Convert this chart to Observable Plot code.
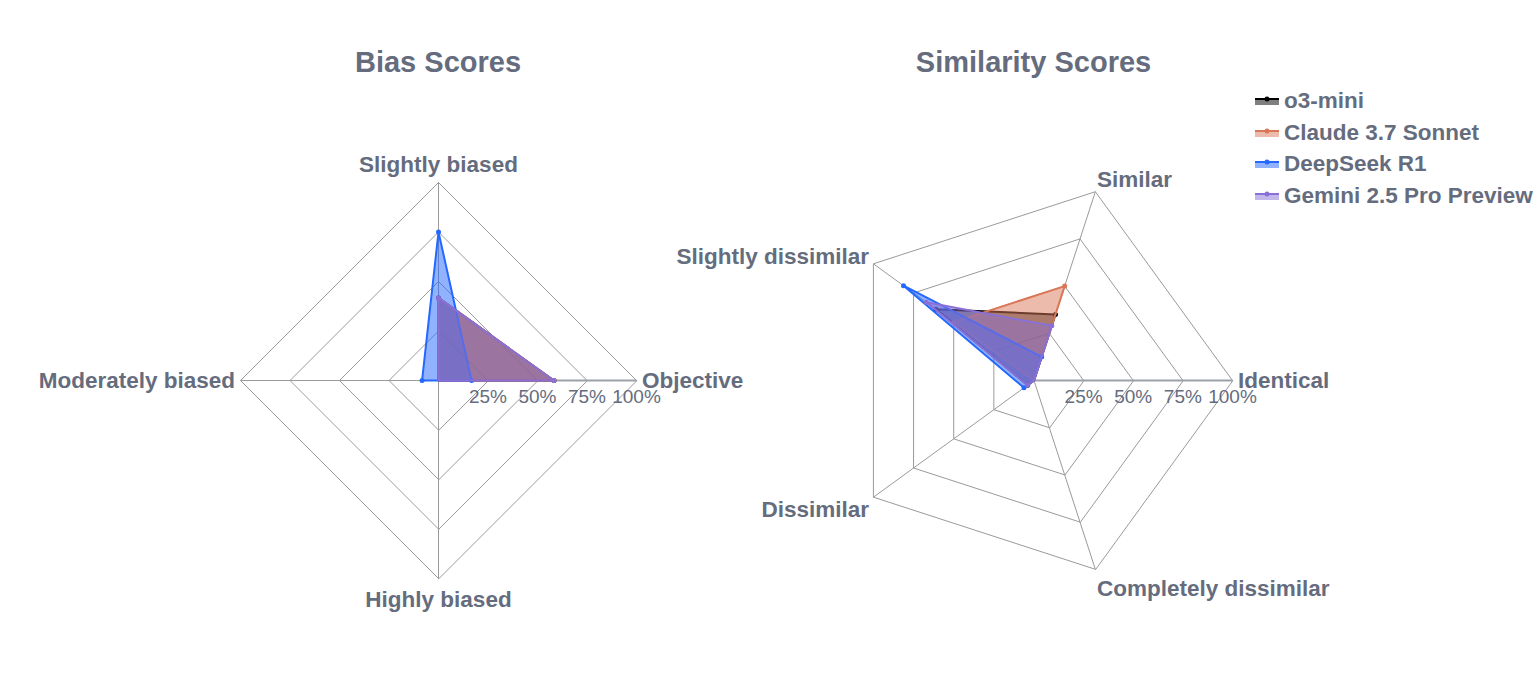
<!DOCTYPE html>
<html>
<head>
<meta charset="utf-8">
<script src="https://cdn.jsdelivr.net/npm/d3@7"></script>
<script src="https://cdn.jsdelivr.net/npm/@observablehq/plot@0.6"></script>
<style>
  html, body { margin: 0; padding: 0; background: #fff; }
  #root { position: relative; width: 1536px; height: 680px; overflow: hidden; font-family: "Liberation Sans", Arial, sans-serif; }
  .panel { position: absolute; top: 0; }
  .title { position: absolute; top: 44px; line-height: 36px; font-size: 29px; font-weight: bold; color: #656c7d; transform: translateX(-50%); white-space: nowrap; }
  #legend { position: absolute; left: 1254px; top: 85px; z-index: 5; }
  .li { display: flex; align-items: center; height: 31.7px; font-size: 22.5px; font-weight: bold; color: #656c7d; white-space: nowrap; }
  .li svg { margin-right: 4px; }
</style>
</head>
<body>
<div id="root"></div>
<script>
// ---- data ----
const models = ["o3-mini", "Claude 3.7 Sonnet", "DeepSeek R1", "Gemini 2.5 Pro Preview"];
const modelColors = ["#000000", "#d97757", "#2468ff", "#8a70d6"];

const biasCategories = ["Objective", "Slightly biased", "Moderately biased", "Highly biased"];
const biasO3 = [58.3, 41.7, 0, 0];
const biasClaude = [58.3, 41.7, 0, 0];
const biasDeepSeek = [16.7, 75.0, 8.3, 0];
const biasGemini = [58.3, 41.7, 0, 0];

const simCategories = ["Identical", "Similar", "Slightly dissimilar", "Dissimilar", "Completely dissimilar"];
const simO3 = [0, 35, 61, 4, 0];
const simClaude = [0, 50, 50, 0, 0];
const simDeepSeek = [0, 12.5, 81.25, 6.25, 0];
const simGemini = [0, 29, 67, 4, 0];

const tickValues = [25, 50, 75, 100];
const tickLabels = ["25%", "50%", "75%", "100%"];

const textColor = "#656c7d";
const gridColor = "#9a9a9a";
const H = 680;

function radar({categories, seriesValues, left, width, cx, cy, R}) {
  const n = categories.length;
  const ang = i => i * 2 * Math.PI / n;
  const px = (r, i) => r * Math.cos(ang(i));
  const py = (r, i) => r * Math.sin(ang(i));

  const rings = [];
  tickValues.forEach(t => {
    categories.forEach((c, i) => rings.push({level: t, i, r: t / 100}));
  });
  const spokes = categories.map((c, i) => ({i}));

  const rows = [];
  models.forEach((m, k) => {
    seriesValues[k].forEach((v, i) => rows.push({model: m, k, i, r: v / 100}));
  });

  const marks = [
    Plot.line(rings, {x: d => px(d.r, d.i), y: d => py(d.r, d.i), z: "level", curve: "linear-closed", stroke: gridColor, strokeWidth: 1}),
    Plot.link(spokes, {x1: 0, y1: 0, x2: d => px(1, d.i), y2: d => py(1, d.i), stroke: gridColor, strokeWidth: 1}),
    Plot.link([0], {x1: 0, y1: 0, x2: 1, y2: 0, stroke: "#9ba0aa", strokeWidth: 2})
  ];

  models.forEach((m, k) => {
    const data = rows.filter(d => d.k === k);
    marks.push(Plot.line(data, {x: d => px(d.r, d.i), y: d => py(d.r, d.i), curve: "linear-closed",
      fill: modelColors[k], fillOpacity: 0.5, stroke: modelColors[k], strokeWidth: 2, strokeLinejoin: "round"}));
    marks.push(Plot.dot(data.filter(d => d.r > 0), {x: d => px(d.r, d.i), y: d => py(d.r, d.i), r: 2.5, fill: modelColors[k], stroke: null}));
  });

  const ticks = tickValues.map((t, j) => ({r: t / 100, label: tickLabels[j]}));
  marks.push(Plot.text(ticks, {x: "r", y: 0, text: "label", dy: 16, fontSize: 19, fill: textColor, textAnchor: "middle", fontFamily: "Liberation Sans, Arial, sans-serif"}));

  categories.forEach((c, i) => {
    const co = Math.cos(ang(i)), si = Math.sin(ang(i));
    const middle = Math.abs(co) <= 0.1;
    const anchor = middle ? "middle" : co > 0 ? "start" : "end";
    const dx = co * 5.5;
    let dy;
    if (si > 0) dy = middle ? -si * 18 : -si * 12.6;
    else dy = -si * 21;
    marks.push(Plot.text([c], {x: px(1, i), y: py(1, i), text: d => d, textAnchor: anchor, dx, dy,
      fontSize: 22.5, fontWeight: "bold", fill: textColor, fontFamily: "Liberation Sans, Arial, sans-serif"}));
  });

  const svg = Plot.plot({
    width, height: H, margin: 0,
    x: {type: "linear", domain: [-cx / R, (width - cx) / R], range: [0, width], axis: null},
    y: {type: "linear", domain: [-(H - cy) / R, cy / R], range: [H, 0], axis: null},
    style: {background: "transparent", overflow: "visible"},
    marks
  });
  const wrap = document.createElement("div");
  wrap.className = "panel";
  wrap.style.left = left + "px";
  wrap.appendChild(svg);
  return wrap;
}

const root = document.getElementById("root");
root.appendChild(radar({categories: biasCategories, seriesValues: [biasO3, biasClaude, biasDeepSeek, biasGemini],
  left: 0, width: 768, cx: 438, cy: 380, R: 198}));
root.appendChild(radar({categories: simCategories, seriesValues: [simO3, simClaude, simDeepSeek, simGemini],
  left: 768, width: 768, cx: 1033.5 - 768, cy: 380, R: 198.5}));

[["Bias Scores", 438], ["Similarity Scores", 1033.5]].forEach(([t, x]) => {
  const d = document.createElement("div");
  d.className = "title";
  d.style.left = x + "px";
  d.textContent = t;
  root.appendChild(d);
});

const legend = document.createElement("div");
legend.id = "legend";
models.forEach((m, k) => {
  const row = document.createElement("div");
  row.className = "li";
  const c = modelColors[k];
  row.innerHTML = `<svg width="26" height="12" viewBox="0 0 26 12">
    <rect x="1" y="4" width="24" height="6" fill="${c}" fill-opacity="0.5"></rect>
    <line x1="1" x2="25" y1="4" y2="4" stroke="${c}" stroke-width="2"></line>
    <circle cx="13" cy="4" r="2.5" fill="${c}"></circle></svg><span>${m}</span>`;
  legend.appendChild(row);
});
root.appendChild(legend);
</script>
</body>
</html>
